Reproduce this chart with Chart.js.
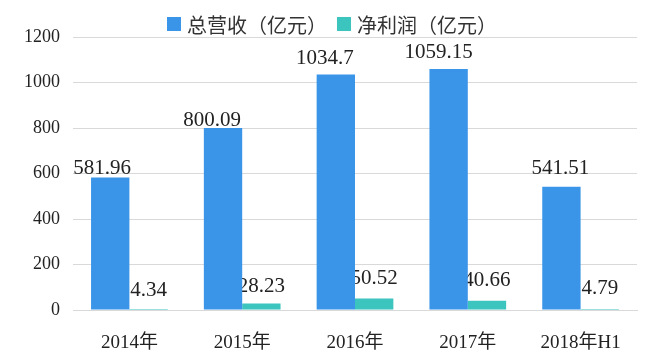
<!DOCTYPE html>
<html>
<head>
<meta charset="utf-8">
<script src="https://cdn.jsdelivr.net/npm/chart.js@4"></script>
<style>
html,body{margin:0;padding:0;background:#fff;}
#wrap{width:654px;height:357px;}
</style>
</head>
<body>
<div id="wrap"><canvas id="c" width="654" height="357"></canvas></div>
<script>
const categories = ["2014年", "2015年", "2016年", "2017年", "2018年H1"];
const revenue = [581.96, 800.09, 1034.7, 1059.15, 541.51];
const netProfit = [4.34, 28.23, 50.52, 40.66, 4.79];
const seriesNames = ["总营收（亿元）", "净利润（亿元）"];
const yTicks = [0, 200, 400, 600, 800, 1000, 1200];

const BLUE = "#3A95E9";
const TEAL = "#3CC4BF";

// label nudges (pixels), as placed in the original: [dataset][category]
const labelNudge = [
  {dx: [-8, -11, -11, -10, -1], gap: [4, 2, 11, 11, 13]},
  {dx: [0, 0, 0, 0, 0], gap: [13, 12, 15, 15, 15]}
];

const valueLabels = {
  id: "valueLabels",
  beforeDatasetsDraw(chart) {
    const ctx = chart.ctx;
    ctx.save();
    ctx.font = "21px 'Liberation Serif', 'Times New Roman', serif";
    ctx.fillStyle = "#222";
    ctx.textAlign = "center";
    ctx.textBaseline = "alphabetic";
    chart.data.datasets.forEach((ds, i) => {
      const meta = chart.getDatasetMeta(i);
      meta.data.forEach((el, j) => {
        ctx.fillText(String(ds.data[j]), el.x + labelNudge[i].dx[j], el.y - labelNudge[i].gap[j]);
      });
    });
    ctx.restore();
  }
};

const topLegend = {
  id: "topLegend",
  afterDraw(chart) {
    const ctx = chart.ctx;
    ctx.save();
    ctx.font = "20px 'Noto Sans CJK SC', sans-serif";
    ctx.textBaseline = "middle";
    ctx.textAlign = "left";
    const box = 14, gap = 6, itemGap = 10, cy = 24;
    const items = chart.data.datasets.map(ds => ({text: ds.label, color: ds.backgroundColor, w: ctx.measureText(ds.label).width}));
    let total = 0;
    items.forEach((it, i) => { total += box + gap + it.w + (i ? itemGap : 0); });
    let x = 332 - total / 2;
    items.forEach((it, i) => {
      if (i) x += itemGap;
      ctx.fillStyle = it.color;
      ctx.fillRect(x, cy - box / 2, box, box);
      x += box + gap;
      ctx.fillStyle = "#333";
      ctx.fillText(it.text, x, cy + 1);
      x += it.w;
    });
    ctx.restore();
  }
};

new Chart(document.getElementById("c"), {
  type: "bar",
  data: {
    labels: categories,
    datasets: [
      {label: seriesNames[0], data: revenue, backgroundColor: BLUE},
      {label: seriesNames[1], data: netProfit, backgroundColor: TEAL}
    ]
  },
  options: {
    responsive: false,
    animation: false,
    devicePixelRatio: 1,
    layout: {padding: {left: 0, right: 17, top: 37, bottom: 0}},
    datasets: {bar: {categoryPercentage: 0.68, barPercentage: 1.0}},
    plugins: {
      tooltip: {enabled: false},
      legend: {display: false}
    },
    scales: {
      x: {
        grid: {display: false},
        border: {display: true, color: "#d9d9d9"},
        ticks: {
          color: "#222",
          padding: 14,
          font: {family: "'Liberation Serif', 'Noto Sans CJK SC', serif", size: 19}
        },
        afterFit(scale) { scale.height = 47; }
      },
      y: {
        min: 0,
        max: 1200,
        afterBuildTicks(scale) { scale.ticks = yTicks.map(v => ({value: v})); },
        grid: {color: "#d9d9d9", drawTicks: false},
        border: {display: false},
        ticks: {
          color: "#222",
          padding: 13,
          callback: v => String(v),
          font: {family: "'Liberation Serif', serif", size: 18}
        },
        afterFit(scale) { scale.width = 73; }
      }
    }
  },
  plugins: [valueLabels, topLegend]
});
</script>
</body>
</html>
